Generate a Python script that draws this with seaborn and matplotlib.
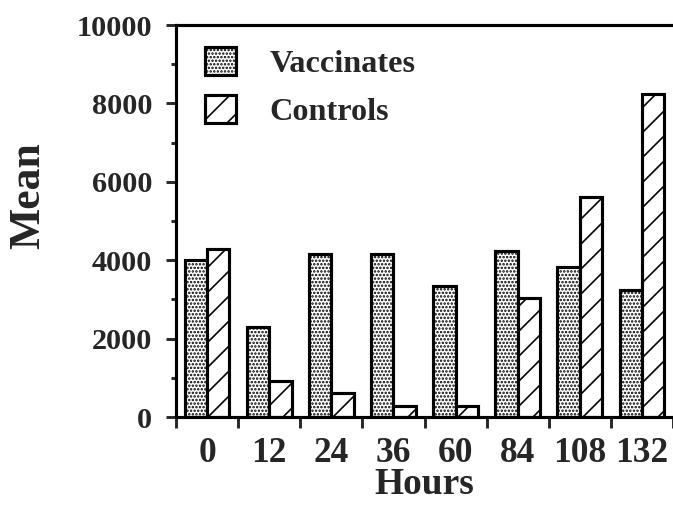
import numpy as np
import pandas as pd
import seaborn as sns
import matplotlib.pyplot as plt
from matplotlib.patches import Patch

hours = ['0', '12', '24', '36', '60', '84', '108', '132']
vaccinates = [4000, 2300, 4150, 4150, 3350, 4230, 3830, 3250]
controls = [4280, 930, 600, 270, 270, 3030, 5620, 8230]
groups = ['Vaccinates', 'Controls']
hatches = ['.......', '//']

df = pd.DataFrame({
    'Hours': hours * 2,
    'Mean': vaccinates + controls,
    'Group': ['Vaccinates'] * len(hours) + ['Controls'] * len(hours),
})

sns.set_style('white')
plt.rcParams['font.family'] = ['Liberation Serif', 'DejaVu Serif']
plt.rcParams['font.weight'] = 'bold'
plt.rcParams['hatch.linewidth'] = 0.8

fig = plt.figure(figsize=(673 / 150, 505 / 150), dpi=150)
ax = fig.add_axes([176 / 673, 1 - 417 / 505, 1 - 176 / 673, 392 / 505])

sns.barplot(data=df, x='Hours', y='Mean', hue='Group', order=hours,
            hue_order=groups, palette=['white', 'white'], edgecolor='black',
            linewidth=1.5, width=0.72, legend=False, ax=ax)

for cont, h in zip(ax.containers, hatches):
    for bar in cont:
        bar.set_hatch(h)

ax.set_xlim(-0.5, 7.43)
ax.set_ylim(0, 10000)
ax.set_yticks(range(0, 10001, 2000))
ax.set_yticks(range(1000, 10000, 2000), minor=True)
ax.set_xticks(range(len(hours)))
ax.set_xticks(np.arange(-0.5, 8), minor=True)
ax.set_xticklabels(hours)

ax.tick_params(axis='y', which='major', direction='out', length=4.8, width=1.4,
               pad=6.7, labelsize=14.5, left=True)
ax.tick_params(axis='y', which='minor', direction='out', length=2.6, width=1.4, left=True)
ax.tick_params(axis='x', which='major', length=0, pad=9.5, labelsize=17)
ax.tick_params(axis='x', which='minor', direction='out', length=5.4, width=1.4, bottom=True)

for s in ['left', 'bottom', 'top']:
    ax.spines[s].set_visible(True)
    ax.spines[s].set_color('black')
    ax.spines[s].set_linewidth(1.5)
ax.spines['right'].set_visible(False)

ax.set_xlabel('Hours', fontsize=18, fontweight='bold', labelpad=-1.5)
ax.set_ylabel('Mean', fontsize=21, fontweight='bold', va='center')
ax.yaxis.set_label_coords(-0.298, 0.566)

handles = [Patch(facecolor='white', edgecolor='black', linewidth=1.5, hatch=h, label=g)
           for g, h in zip(groups, hatches)]
ax.legend(handles=handles, loc='upper left', bbox_to_anchor=(0.058, 0.944),
          frameon=False, borderpad=0, borderaxespad=0,
          handlelength=0.95, handleheight=0.95, handletextpad=1.05,
          labelspacing=0.5, prop={'weight': 'bold', 'size': 15.5})

fig.savefig('out.png', dpi=150)
